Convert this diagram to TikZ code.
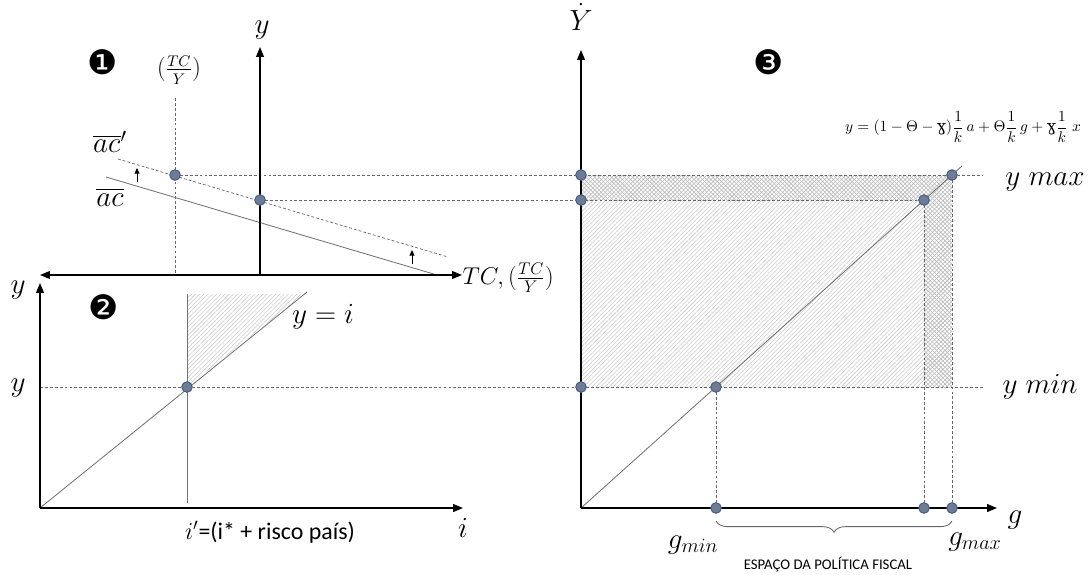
\documentclass[tikz,border=0pt]{standalone}
\usepackage{amsmath,amssymb}
\usepackage{fontspec}
\newfontfamily\dingfont{DejaVu Sans}
\newfontfamily\calfont{Carlito}
\newfontfamily\ipafont{DejaVu Serif}
\usepackage{tikz}
\usetikzlibrary{positioning,calc}
\usetikzlibrary{arrows.meta,patterns,decorations.pathreplacing}
\definecolor{PtFill}{RGB}{112,124,146}
\definecolor{PtEdge}{RGB}{68,92,138}
\tikzset{dot/.style={circle,fill=PtFill,draw=PtEdge,line width=0.7pt,inner sep=0pt,minimum size=7.5pt}, axis/.style={line width=1.1pt,-{Triangle[length=7pt,width=5.5pt]}}, axisboth/.style={line width=1.1pt,{Triangle[length=7pt,width=5.5pt]}-{Triangle[length=7pt,width=5.5pt]}}, guide/.style={draw=black!60,line width=0.5pt,dash pattern=on 2pt off 1.5pt}, curve/.style={draw=black!55,line width=0.6pt}, shiftarrow/.style={line width=0.6pt,-{Triangle[length=4pt,width=3.5pt]}}, lab/.style={font=\fontsize{19.5}{22}\selectfont,inner sep=1pt}, tag/.style={font=\fontsize{24}{26}\dingfont,inner sep=1pt}}

\begin{document}
\begin{tikzpicture}[x=0.025cm,y=-0.025cm]
\useasboundingbox (0,0) rectangle (1091,574);
% panel 1
\coordinate (o1) at (260,275);
\coordinate (y1) at (260,47);
\coordinate (l1) at (40,275);
\coordinate (r1) at (462,275);
\coordinate (ac1) at (106,177);
\coordinate (ac2) at (437,275);
\coordinate (acp1) at (118,159);
\coordinate (acp2) at (448,257);
\coordinate (p1) at (175,175);
\coordinate (p2) at (260,200);
\coordinate (v1) at (175,98);
\coordinate (v2) at (175,275);
\coordinate (s1) at (137,182);
\coordinate (s2) at (137,168);
\coordinate (s3) at (412,264);
\coordinate (s4) at (412,250);
% panel 2
\coordinate (o2) at (40,508);
\coordinate (y2) at (40,283);
\coordinate (x2) at (463,508);
\coordinate (d2) at (307,292);
\coordinate (c1) at (187,294);
\coordinate (c2) at (187,503);
\coordinate (c3) at (304,294);
\coordinate (p3) at (187,387);
\coordinate (l2) at (40,387);
% panel 3
\coordinate (o3) at (581,508);
\coordinate (y3) at (581,50);
\coordinate (x3) at (997,508);
\coordinate (d3) at (962,166);
\coordinate (h1) at (581,175);
\coordinate (h2) at (581,200);
\coordinate (h3) at (581,387);
\coordinate (q1) at (952,175);
\coordinate (q2) at (924,200);
\coordinate (q3) at (716,387);
\coordinate (g1) at (716,508);
\coordinate (g2) at (924,508);
\coordinate (g3) at (952,508);
\coordinate (e1) at (983,175);
\coordinate (e3) at (983,387);
\coordinate (b1) at (716,521);
\coordinate (b2) at (952,521);

% shaded areas
\fill[pattern=north east lines,pattern color=black!20] (p3) -- (c1) -- (c3) -- cycle;
\fill[pattern=north east lines,pattern color=black!20] (h2) rectangle (q2 |- h3);
\fill[pattern=crosshatch,pattern color=black!28] (h1) rectangle (q1 |- q2);
\fill[pattern=crosshatch,pattern color=black!28] (q2) rectangle (q1 |- h3);

% guides
\draw[guide] (v1) -- (v2);
\draw[guide] (p1) -- (e1);
\draw[guide] (p2) -- (q2);
\draw[guide] (l2) -- (e3);
\draw[guide] (q3) -- (g1);
\draw[guide] (q2) -- (g2);
\draw[guide] (q1) -- (g3);
\draw[guide] (acp1) -- (acp2);

% lines
\draw[curve] (ac1) -- (ac2);
\draw[curve] (o2) -- (d2);
\draw[curve] (c1) -- (c2);
\draw[curve] (o3) -- (d3);
\draw[shiftarrow] (s1) -- (s2);
\draw[shiftarrow] (s3) -- (s4);

% axes
\draw[axis] (o1) -- (y1);
\draw[axisboth] (l1) -- (r1);
\draw[axis] (o2) -- (y2);
\draw[axis] (o2) -- (x2);
\draw[axis] (o3) -- (y3);
\draw[axis] (o3) -- (x3);

% points
\node[dot] (np1) at (p1) {};
\node[dot] (np2) at (p2) {};
\node[dot] (np3) at (p3) {};
\node[dot] (nh1) at (h1) {};
\node[dot] (nh2) at (h2) {};
\node[dot] (nh3) at (h3) {};
\node[dot] (nq1) at (q1) {};
\node[dot] (nq2) at (q2) {};
\node[dot] (nq3) at (q3) {};
\node[dot] (ng1) at (g1) {};
\node[dot] (ng2) at (g2) {};
\node[dot] (ng3) at (g3) {};

\draw[draw=black!60,line width=0.6pt,decorate,decoration={brace,mirror,amplitude=8pt}] (b1) -- (b2);

% labels
\node[tag] (t1) at (103,62) {❶};
\node[tag] (t2) at (104,307) {❷};
\node[tag] (t3) at (769,62) {❸};
\node[lab] (ly1) at (262,30) {$y$};
\node[lab,font=\fontsize{16}{19}\selectfont] (ltc) at (179,70) {$(\frac{TC}{Y})$};
\node[lab] (lacp) at (110,142) {$\overline{ac}'$};
\node[lab] (lac) at (110,197) {$\overline{ac}$};
\node[lab,font=\fontsize{17}{20}\selectfont,anchor=west] (lx1) at (461,278) {$TC,(\frac{TC}{Y})$};
\node[lab] (ly2) at (18,290) {$y$};
\node[lab] (ly2b) at (18,388) {$y$};
\node[lab] (lyi) at (323,317) {$y=i$};
\node[lab] (li) at (463,528) {$i$};
\node[font=\fontsize{17}{20}\calfont] (lrisk) at (270,532) {$i'$=(i* + risco país)};
\node[lab,anchor=base] (lY) at (581,30) {$\dot{Y}$};
\node[font=\fontsize{11}{13}\selectfont] (leq) at (963,127) {$y=(1-\Theta-\text{\ipafont ɣ})\dfrac{1}{k}\,a+\Theta\dfrac{1}{k}\,g+\text{\ipafont ɣ}\dfrac{1}{k}\;x$};
\node[lab] (lmax) at (1045,182) {$y\ max$};
\node[lab] (lmin) at (1040,387) {$y\ min$};
\node[lab] (lg) at (1015,520) {$g$};
\node[lab] (lgmin) at (693,545) {$g_{min}$};
\node[lab] (lgmax) at (975,542) {$g_{max}$};
\node[font=\fontsize{10.5}{12}\calfont] (lesp) at (828,565) {ESPAÇO DA POLÍTICA FISCAL};
\end{tikzpicture}
\end{document}
